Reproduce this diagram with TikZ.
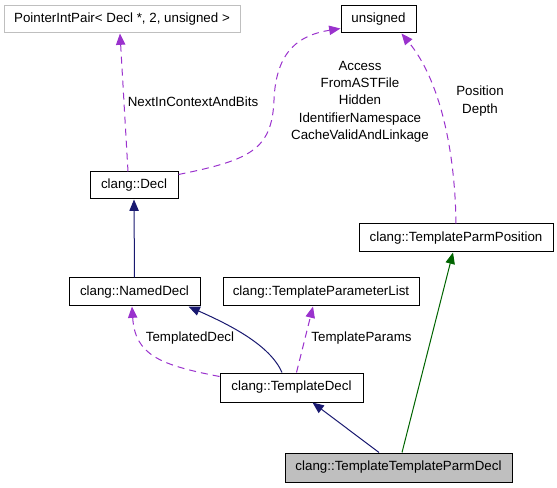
\documentclass[tikz,border=0pt]{standalone}
\usepackage{fontspec}
\setmainfont{Liberation Sans}
\usetikzlibrary{arrows.meta,calc}
\definecolor{dpurple}{HTML}{9A32CD}
\definecolor{dnavy}{HTML}{191970}
\definecolor{dgreen}{HTML}{006400}
\definecolor{dgrey}{HTML}{BFBFBF}
\tikzset{
  box/.style 2 args={draw=black, line width=0.75pt, fill=white, inner sep=0pt,
    minimum width=#1*0.75pt, minimum height=#2*0.75pt, font=\fontsize{10}{12}\selectfont},
  lbl/.style={font=\fontsize{10}{13}\selectfont, inner sep=0pt, align=center},
  tip/.style={-{Triangle[length=8.5pt,width=7pt,fill=#1]}},
  usedep/.style={tip=dpurple, draw=dpurple, line width=0.75pt, dash pattern=on 5.25pt off 3.75pt},
  inh/.style={tip=dnavy, draw=dnavy, line width=0.75pt},
  inhg/.style={tip=dgreen, draw=dgreen, line width=0.75pt},
}
\begin{document}
\begin{tikzpicture}[x=0.75pt,y=-0.75pt]
\useasboundingbox (0,0) rectangle (557,488);
\node[box={236}{27}, draw=dgrey] (ptr) at (122,19.5) {PointerIntPair< Decl *, 2, unsigned >};
\node[box={75}{27}] (uns) at (378.5,19.5) {unsigned};
\node[box={88}{27}] (decl) at (134,185.5) {clang::Decl};
\node[box={194}{28}] (tpp) at (456,238) {clang::TemplateParmPosition};
\node[box={131}{28}] (named) at (134.5,292) {clang::NamedDecl};
\node[box={196}{28}] (tpl) at (321,292) {clang::TemplateParameterList};
\node[box={143}{29}] (tdecl) at (291.5,387.5) {clang::TemplateDecl};
\node[box={227}{29}, fill=dgrey] (ttpd) at (398.5,467.5) {clang::TemplateTemplateParmDecl};

% edges
\draw[usedep] ($(decl.north)+(-6,0)$) -- ($(ptr.south)+(-2,0)$);
\draw[usedep] ($(decl.north east)+(0,3)$) .. controls (250,160) and (272,150) .. (274,100)
   .. controls (276,50) and (300,35) .. ($(uns.south west)+(0,-5)$);
\draw[usedep] (tpp.north) .. controls (455,150) and (440,80) .. ($(uns.south east)+(-15,0)$);
\draw[inh] (named.north) -- (decl.south);
\draw[inh] ($(tdecl.north)+(-9.5,0)$) .. controls (270,345) and (230,325) .. ($(named.south east)+(-12,0)$);
\draw[usedep] ($(tdecl.north west)+(0,4)$) .. controls (160,365) and (135,355) .. ($(named.south)+(-2.5,0)$);
\draw[usedep] ($(tdecl.north)+(5,0)$) -- ($(tpl.south)+(-8,0)$);
\draw[inh] ($(ttpd.north)+(-19.5,0)$) -- ($(tdecl.south)+(21,0)$);
\draw[inhg] ($(ttpd.north)+(3.5,0)$) -- ($(tpp.south)+(-3,0)$);

% labels
\node[lbl] (l1) at (193,102) {NextInContextAndBits};
\node[lbl] (l2) at (360,101.5) {Access\\FromASTFile\\Hidden\\IdentifierNamespace\\CacheValidAndLinkage};
\node[lbl] (l3) at (480,101) {Position\\Depth};
\node[lbl] (l4) at (190,338) {TemplatedDecl};
\node[lbl] (l5) at (361.5,338) {TemplateParams};
\end{tikzpicture}
\end{document}
